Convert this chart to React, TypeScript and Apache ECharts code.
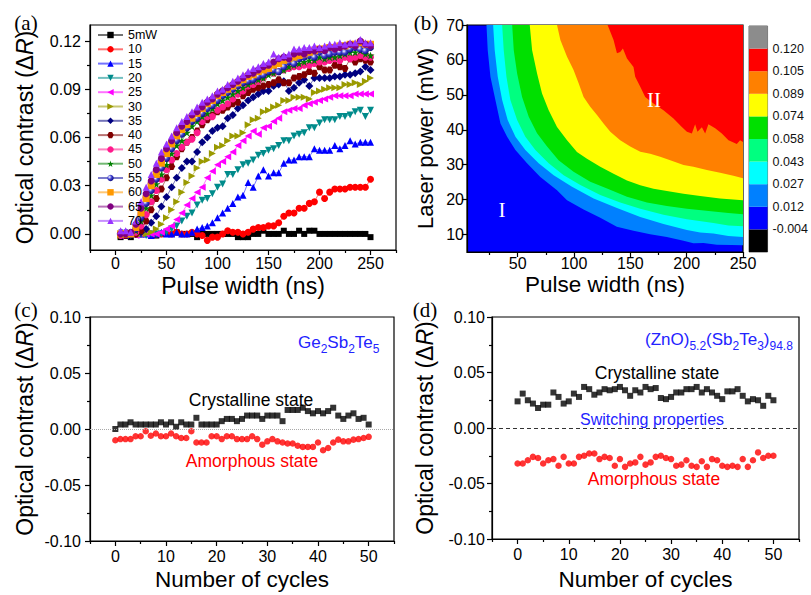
import React, { useEffect, useRef } from "react";
import * as echarts from "echarts";

// ---------- (a) optical contrast vs pulse width, one curve per laser power ----------
const pulseWidths = [
  5, 10, 15, 20, 25, 30, 35, 40, 45, 50,
  55, 60, 65, 70, 75, 80, 85, 90, 95, 100,
  105, 110, 115, 120, 125, 130, 135, 140, 145, 150,
  155, 160, 165, 170, 175, 180, 185, 190, 195, 200,
  205, 210, 215, 220, 225, 230, 235, 240, 245, 250,
];
const powerNames = ["5mW", "10", "15", "20", "25", "30", "35", "40", "45", "50", "55", "60", "65", "70"];

const contrast5 = [
  -0.002, -0.001, -0.002, 0.0, 0.001, 0.002, 0.0, -0.001, 0.0, 0.0,
  0.0, 0.001, 0.0, 0.0, 0.0, -0.002, 0.0, 0.0, 0.0, 0.0,
  0.0, 0.0, 0.0, -0.002, -0.002, -0.002, 0.0, 0.0, 0.002, 0.0,
  0.0, 0.0, 0.002, 0.0, 0.0, 0.002, 0.0, 0.002, 0.002, 0.0,
  0.0, 0.0, 0.0, 0.0, 0.0, 0.0, 0.0, 0.0, 0.0, -0.002,
];
const contrast10 = [
  0.0, -0.001, 0.0, 0.0, 0.0, 0.001, 0.0, 0.0, 0.0, 0.001,
  0.0, 0.001, 0.0, 0.0, 0.001, 0.0, -0.001, -0.004, -0.002, -0.002,
  0.0, 0.002, 0.001, 0.001, 0.0, 0.001, 0.003, 0.004, 0.004, 0.005,
  0.005, 0.007, 0.011, 0.013, 0.013, 0.016, 0.016, 0.019, 0.02, 0.026,
  0.022, 0.026, 0.028, 0.028, 0.028, 0.029, 0.029, 0.029, 0.029, 0.034,
];
const contrast15 = [
  0.0, -0.001, 0.0, 0.001, 0.0, 0.0, -0.001, 0.0, 0.001, 0.0,
  0.0, 0.001, 0.0, 0.0, 0.001, 0.003, 0.004, 0.005, 0.007, 0.01,
  0.013, 0.016, 0.019, 0.023, 0.024, 0.032, 0.029, 0.036, 0.04, 0.036,
  0.038, 0.038, 0.044, 0.046, 0.046, 0.048, 0.048, 0.048, 0.053, 0.052,
  0.052, 0.052, 0.055, 0.053, 0.055, 0.058, 0.056, 0.057, 0.057, 0.057,
];
const contrast20 = [
  -0.001, 0.0, -0.001, 0.0, 0.0, -0.001, 0.0, 0.0, 0.0, 0.001,
  0.003, 0.005, 0.008, 0.011, 0.013, 0.018, 0.021, 0.022, 0.025, 0.029,
  0.031, 0.037, 0.037, 0.04, 0.043, 0.044, 0.046, 0.049, 0.05, 0.052,
  0.053, 0.055, 0.058, 0.058, 0.061, 0.062, 0.063, 0.066, 0.066, 0.069,
  0.071, 0.071, 0.071, 0.073, 0.073, 0.074, 0.076, 0.077, 0.073, 0.077,
];
const contrast25 = [
  -0.001, 0.0, 0.0, -0.001, 0.0, 0.0, 0.0, 0.0, 0.001, 0.003,
  0.005, 0.009, 0.013, 0.018, 0.022, 0.026, 0.029, 0.035, 0.039, 0.043,
  0.045, 0.048, 0.051, 0.055, 0.058, 0.061, 0.064, 0.062, 0.066, 0.067,
  0.07, 0.072, 0.076, 0.077, 0.078, 0.078, 0.08, 0.081, 0.082, 0.083,
  0.084, 0.085, 0.086, 0.086, 0.086, 0.086, 0.087, 0.087, 0.087, 0.087,
];
const contrast30 = [
  -0.001, 0.0, 0.0, 0.0, 0.0, 0.0, 0.001, 0.003, 0.006, 0.01,
  0.015, 0.02, 0.026, 0.032, 0.036, 0.041, 0.045, 0.046, 0.05, 0.054,
  0.055, 0.058, 0.061, 0.061, 0.063, 0.068, 0.071, 0.072, 0.076, 0.077,
  0.079, 0.08, 0.083, 0.083, 0.085, 0.085, 0.085, 0.084, 0.088, 0.089,
  0.09, 0.091, 0.091, 0.091, 0.093, 0.093, 0.094, 0.093, 0.095, 0.097,
];
const contrast35 = [
  0.0, 0.0, 0.0, 0.0, 0.001, 0.003, 0.007, 0.011, 0.017, 0.023,
  0.029, 0.035, 0.041, 0.045, 0.045, 0.051, 0.057, 0.06, 0.064, 0.066,
  0.067, 0.072, 0.074, 0.078, 0.08, 0.083, 0.085, 0.087, 0.089, 0.089,
  0.092, 0.093, 0.095, 0.089, 0.091, 0.094, 0.096, 0.092, 0.097, 0.097,
  0.097, 0.097, 0.098, 0.098, 0.099, 0.099, 0.1, 0.101, 0.104, 0.102,
];
const contrast40 = [
  0.0, -0.001, 0.0, 0.0, 0.002, 0.008, 0.015, 0.022, 0.028, 0.035,
  0.042, 0.048, 0.053, 0.057, 0.06, 0.064, 0.068, 0.071, 0.074, 0.076,
  0.077, 0.079, 0.081, 0.082, 0.086, 0.088, 0.09, 0.091, 0.092, 0.093,
  0.094, 0.096, 0.094, 0.094, 0.097, 0.098, 0.099, 0.101, 0.1, 0.104,
  0.102, 0.102, 0.105, 0.104, 0.103, 0.109, 0.107, 0.109, 0.108, 0.107,
];
const contrast45 = [
  -0.001, 0.0, 0.0, 0.001, 0.005, 0.012, 0.02, 0.027, 0.034, 0.04,
  0.046, 0.05, 0.054, 0.057, 0.059, 0.063, 0.07, 0.073, 0.073, 0.077,
  0.079, 0.081, 0.084, 0.087, 0.089, 0.092, 0.093, 0.095, 0.097, 0.1,
  0.1, 0.101, 0.102, 0.103, 0.104, 0.104, 0.105, 0.105, 0.106, 0.107,
  0.107, 0.108, 0.109, 0.108, 0.11, 0.109, 0.11, 0.111, 0.11, 0.11,
];
const contrast50 = [
  0.0, 0.0, 0.0, 0.002, 0.008, 0.016, 0.024, 0.031, 0.037, 0.043,
  0.05, 0.055, 0.058, 0.063, 0.067, 0.07, 0.073, 0.075, 0.078, 0.081,
  0.083, 0.085, 0.087, 0.089, 0.091, 0.093, 0.095, 0.096, 0.097, 0.099,
  0.1, 0.101, 0.102, 0.104, 0.105, 0.106, 0.107, 0.108, 0.108, 0.11,
  0.109, 0.11, 0.11, 0.111, 0.112, 0.113, 0.113, 0.114, 0.112, 0.111,
];
const contrast55 = [
  0.001, 0.001, 0.0, 0.003, 0.01, 0.019, 0.027, 0.034, 0.041, 0.047,
  0.053, 0.058, 0.062, 0.066, 0.07, 0.072, 0.075, 0.078, 0.08, 0.083,
  0.086, 0.088, 0.09, 0.092, 0.094, 0.095, 0.096, 0.098, 0.099, 0.101,
  0.102, 0.101, 0.104, 0.107, 0.106, 0.109, 0.11, 0.111, 0.11, 0.113,
  0.111, 0.112, 0.113, 0.113, 0.113, 0.115, 0.116, 0.115, 0.114, 0.116,
];
const contrast60 = [
  0.0, 0.0, 0.0, 0.004, 0.013, 0.022, 0.03, 0.037, 0.044, 0.05,
  0.056, 0.061, 0.065, 0.068, 0.072, 0.075, 0.078, 0.081, 0.083, 0.086,
  0.088, 0.09, 0.092, 0.094, 0.096, 0.098, 0.099, 0.101, 0.102, 0.103,
  0.105, 0.106, 0.108, 0.109, 0.11, 0.111, 0.112, 0.113, 0.114, 0.115,
  0.115, 0.116, 0.116, 0.117, 0.117, 0.118, 0.118, 0.119, 0.118, 0.118,
];
const contrast65 = [
  0.0, 0.0, 0.001, 0.006, 0.016, 0.025, 0.033, 0.04, 0.047, 0.053,
  0.058, 0.063, 0.067, 0.07, 0.074, 0.076, 0.079, 0.082, 0.084, 0.087,
  0.089, 0.091, 0.093, 0.095, 0.097, 0.099, 0.1, 0.102, 0.104, 0.105,
  0.107, 0.109, 0.11, 0.109, 0.112, 0.113, 0.112, 0.114, 0.114, 0.115,
  0.114, 0.116, 0.115, 0.116, 0.117, 0.118, 0.117, 0.12, 0.118, 0.117,
];
const contrast70 = [
  0.002, 0.002, 0.001, 0.008, 0.02, 0.029, 0.037, 0.044, 0.051, 0.056,
  0.061, 0.066, 0.07, 0.073, 0.076, 0.079, 0.082, 0.084, 0.086, 0.089,
  0.09, 0.093, 0.095, 0.097, 0.099, 0.101, 0.103, 0.104, 0.106, 0.107,
  0.112, 0.11, 0.111, 0.112, 0.115, 0.115, 0.116, 0.116, 0.117, 0.116,
  0.117, 0.118, 0.118, 0.119, 0.118, 0.119, 0.119, 0.121, 0.119, 0.119,
];
const contrastByPower = [
  contrast5, contrast10, contrast15, contrast20, contrast25, contrast30, contrast35,
  contrast40, contrast45, contrast50, contrast55, contrast60, contrast65, contrast70,
];

// ---------- (b) contour map: boundary of each level as [pulse width ns, laser power mW] ----------
const contourLevels = ["-0.004", "0.012", "0.027", "0.043", "0.058", "0.074", "0.089", "0.105", "0.120"];
const edge012: [number, number][] = [
  [22.3, 70], [23.4, 62.8], [25.8, 55.2], [30.2, 48.5], [34.7, 41.8], [40.6, 38], [48, 34.2],
  [58.3, 30.4], [70.1, 26.5], [84.9, 22.7], [93.8, 19.8], [108.5, 17.2], [123.3, 14.8], [138, 12.2],
  [152.8, 11.1], [167.6, 10.1], [182.4, 9.3], [197.2, 8.2], [206, 7.5], [215, 7.6], [226.8, 7.1],
  [240, 7.0], [250, 6.9],
];
const edge027: [number, number][] = [
  [28.2, 70], [29.6, 62.8], [32.3, 55.2], [36.2, 48.5], [41.1, 42.8], [48, 38], [56.8, 34.2],
  [68.6, 30.4], [81.9, 27], [98.2, 23.7], [117.4, 20.3], [138.1, 17.6], [158.8, 15], [179.4, 13],
  [200.2, 11.3], [212, 10.6], [223.8, 10.3], [237, 9.6], [250, 9.3],
];
const edge043: [number, number][] = [
  [36.2, 70], [37.6, 62.8], [40, 55.2], [43.5, 48.5], [49.5, 42.8], [56.8, 38], [65.7, 34.2],
  [77.5, 30.4], [90.8, 27], [105.6, 24.2], [123.3, 21.3], [141, 19.2], [158.8, 17.4], [179.4, 15.7],
  [200.2, 14.4], [223.8, 13.3], [237, 12.6], [250, 12.4],
];
const edge058: [number, number][] = [
  [45.1, 70], [46.5, 62.8], [49.5, 56.1], [53.9, 49.4], [59.8, 43.7], [67.2, 39], [76.1, 35.2],
  [86.3, 31.3], [99.6, 28], [114.4, 25.1], [129.3, 23.2], [147, 20.8], [164.7, 19.2], [182.4, 18.2],
  [200.2, 17.4], [223.8, 16.6], [237, 16.2], [250, 15.8],
];
const edge074: [number, number][] = [
  [60.7, 70], [62.8, 62.8], [67.2, 56.1], [71.6, 50.4], [77.5, 45.6], [84.9, 40.8], [93.8, 37],
  [102.6, 33.6], [111.5, 31.7], [123.3, 29.4], [135.1, 27.4], [147, 25.5], [158.8, 24.1],
  [170.6, 23.1], [182.4, 22.5], [197.2, 21.7], [212, 21], [229.7, 20.3], [250, 19.8],
];
const edge089: [number, number][] = [
  [84.9, 70], [87.9, 65.7], [93.8, 60.9], [99.6, 57.1], [104.1, 53.3], [108.5, 49.4], [114.4, 46.6],
  [120.4, 44.2], [126.2, 41.8], [132.2, 39.4], [141, 37], [149.9, 35.2], [158.8, 33.7], [167.6, 33.1],
  [176.5, 32.3], [185.4, 31.3], [197.2, 29.9], [206, 29.4], [217.9, 28.5], [229.7, 27.7],
  [241.5, 26.8], [250, 26.1],
];
const edge105: [number, number][] = [
  [129.8, 70], [135.1, 65.7], [138.1, 61.9], [141, 62.3], [143.4, 63.3], [147, 60.4], [152.8, 58],
  [154.3, 55.2], [158.8, 52.3], [163.2, 49.4], [170.6, 47.5], [179.4, 45.6], [188.3, 43.2],
  [195.7, 40.8], [200.2, 39.4], [204.6, 38.9], [207.5, 41.6], [209.6, 39.4], [213.5, 40.7],
  [216.4, 38.9], [219.3, 41.6], [225.3, 40.4], [231.2, 38.9], [237.1, 37], [244.5, 35.9],
  [247.4, 37], [250, 36.5],
];
const contourEdges = [edge012, edge027, edge043, edge058, edge074, edge089, edge105];

// ---------- (c), (d) cycling ----------
const cycles = [
  0, 1, 2, 3, 4, 5, 6, 7, 8, 9, 10, 11, 12, 13, 14, 15, 16, 17, 18, 19, 20, 21, 22, 23, 24, 25,
  26, 27, 28, 29, 30, 31, 32, 33, 34, 35, 36, 37, 38, 39, 40, 41, 42, 43, 44, 45, 46, 47, 48, 49, 50,
];
const gstCrystalline = [
  0.0, 0.004, 0.004, 0.006, 0.004, 0.004, 0.004, 0.004, 0.004, 0.006, 0.004, 0.006, 0.002, 0.006,
  0.004, 0.004, 0.01, 0.004, 0.004, 0.004, 0.004, 0.007, 0.009, 0.009, 0.007, 0.009, 0.012, 0.012,
  0.012, 0.009, 0.012, 0.012, 0.012, 0.007, 0.017, 0.017, 0.017, 0.019, 0.016, 0.014, 0.016, 0.014,
  0.016, 0.019, 0.012, 0.009, 0.012, 0.014, 0.009, 0.01, 0.004,
];
const gstAmorphous = [
  -0.01, -0.009, -0.009, -0.009, -0.0065, -0.0065, -0.002, -0.006, -0.004, -0.0065, -0.0065, -0.004,
  -0.0065, -0.008, -0.008, -0.002, -0.012, -0.012, -0.012, -0.0065, -0.0065, -0.009, -0.0065, -0.0065,
  -0.009, -0.009, -0.009, -0.0065, -0.009, -0.014, -0.011, -0.009, -0.011, -0.012, -0.013, -0.013,
  -0.015, -0.016, -0.016, -0.016, -0.012, -0.019, -0.017, -0.012, -0.0095, -0.011, -0.011, -0.0095,
  -0.009, -0.008, -0.007,
];
const zstCrystalline = [
  0.024, 0.031, 0.025, 0.022, 0.018, 0.021, 0.021, 0.032, 0.028, 0.022, 0.024, 0.031, 0.028, 0.037,
  0.035, 0.03, 0.032, 0.035, 0.034, 0.035, 0.037, 0.034, 0.029, 0.034, 0.032, 0.037, 0.035, 0.036,
  0.027, 0.026, 0.028, 0.032, 0.032, 0.035, 0.035, 0.037, 0.032, 0.035, 0.032, 0.029, 0.026, 0.033,
  0.033, 0.035, 0.029, 0.024, 0.026, 0.025, 0.02, 0.029, 0.025,
];
const zstAmorphous = [
  -0.032, -0.032, -0.029, -0.026, -0.027, -0.032, -0.029, -0.028, -0.034, -0.026, -0.032, -0.032,
  -0.026, -0.025, -0.023, -0.023, -0.028, -0.026, -0.027, -0.034, -0.028, -0.035, -0.032, -0.031,
  -0.026, -0.033, -0.031, -0.026, -0.025, -0.027, -0.028, -0.034, -0.033, -0.029, -0.034, -0.035,
  -0.03, -0.035, -0.028, -0.029, -0.034, -0.035, -0.034, -0.035, -0.028, -0.035, -0.029, -0.022,
  -0.027, -0.025, -0.025,
];

// ---------- styles ----------
const FONT = "'Liberation Sans', Arial, sans-serif";
const SERIF = "'Liberation Serif', 'Times New Roman', serif";
const STAR = "path://M50,0L61,35L98,35L68,57L79,91L50,70L21,91L32,57L2,35L39,35Z";
const HEX = "path://M25,0L75,0L100,43L75,87L25,87L0,43Z";
const contourColors = ["#0080ff", "#00ffff", "#00ff80", "#00e000", "#ffff00", "#ff8000", "#ff0000"];
const colorbarColors = [
  "#000000", "#0000ff", "#0080ff", "#00ffff", "#00ff80", "#00e000", "#ffff00", "#ff8000", "#ff0000", "#8c8c8c",
];
const BLUE_TEXT = "#2323ff";

function makeMarkers() {
  const sphere = new echarts.graphic.RadialGradient(0.35, 0.35, 0.75, [
    { offset: 0, color: "#ffffff" },
    { offset: 0.45, color: "#4040d0" },
    { offset: 1, color: "#000070" },
  ]);
  return [
    { color: "#000000", symbol: "rect", size: 6 },
    { color: "#ff0000", symbol: "circle", size: 7 },
    { color: "#0000ff", symbol: "triangle", size: 7 },
    { color: "#008b8b", symbol: "triangle", rotate: 180, size: 7 },
    { color: "#ff00ff", symbol: "triangle", rotate: 90, size: 7 },
    { color: "#9a9a00", symbol: "triangle", rotate: -90, size: 7 },
    { color: "#000080", symbol: "diamond", size: 8 },
    { color: "#800000", symbol: HEX, size: 7 },
    { color: "#ff1a8c", symbol: "circle", size: 7 },
    { color: "#008000", symbol: STAR, size: 8 },
    { color: "#1010a0", fill: sphere, symbol: "circle", size: 7 },
    { color: "#ff9900", symbol: "rect", size: 7 },
    { color: "#800080", symbol: "circle", size: 7 },
    { color: "#9933ff", symbol: "triangle", size: 7 },
  ];
}

const tickLine = { color: "#000", width: 1.2 };

function majorAxis(o: {
  grid: number; min: number; max: number; ticks: number[]; fmt: (v: number) => string;
  margin: number; position: string; name?: string; nameGap?: number; nameSize?: number;
}) {
  return {
    type: "value", gridIndex: o.grid, min: o.min, max: o.max, position: o.position,
    splitLine: { show: false },
    axisLine: { show: true, onZero: false, lineStyle: tickLine },
    axisTick: { show: true, customValues: o.ticks, length: 5, lineStyle: tickLine },
    axisLabel: {
      customValues: o.ticks, formatter: o.fmt, margin: o.margin,
      fontSize: 16, color: "#000", fontFamily: FONT,
    },
    name: o.name, nameLocation: "middle", nameGap: o.nameGap,
    nameTextStyle: {
      fontSize: o.nameSize ?? 23, color: "#000", fontFamily: FONT,
      rich: { i: { fontStyle: "italic", fontSize: o.nameSize ?? 23, fontFamily: FONT, color: "#000" } },
    },
  };
}

function minorAxis(grid: number, min: number, max: number, ticks: number[], position: string) {
  return {
    type: "value", gridIndex: grid, min, max, position, offset: 0,
    splitLine: { show: false },
    axisLine: { show: false, onZero: false },
    axisTick: { show: true, customValues: ticks, length: 3, lineStyle: tickLine },
    axisLabel: { show: false },
  };
}

const f2 = (v: number) => v.toFixed(2);
const f0 = (v: number) => String(Math.round(v));

function buildOption() {
  const markers = makeMarkers();

  const panelA = powerNames.map((name, i) => ({
    type: "line", name, xAxisIndex: 0, yAxisIndex: 0,
    data: pulseWidths.map((x, j) => [x, contrastByPower[i][j]]),
    symbol: markers[i].symbol, symbolRotate: markers[i].rotate ?? 0, symbolSize: markers[i].size,
    itemStyle: { color: markers[i].fill ?? markers[i].color },
    lineStyle: { color: markers[i].color, width: 1, opacity: 0.55 },
    silent: true,
  }));

  const panelB = contourEdges.map((edge, i) => ({
    type: "line", name: "level " + contourLevels[i + 1], xAxisIndex: 2, yAxisIndex: 2,
    data: edge, symbol: "none", lineStyle: { width: 0 },
    areaStyle: { origin: "end", color: contourColors[i], opacity: 1 },
    silent: true,
  }));

  const colorbar = colorbarColors.map((c, i) => ({
    type: "bar", name: "band " + i, xAxisIndex: 4, yAxisIndex: 3, stack: "cb",
    data: [1], barWidth: "100%", itemStyle: { color: c }, silent: true,
  }));

  const cycleSeries = (
    xi: number, yi: number, cryst: number[], amor: number[], zeroLine: any,
  ) => [
    {
      type: "scatter", name: "crystalline", xAxisIndex: xi, yAxisIndex: yi,
      data: cycles.map((c, j) => [c, cryst[j]]), symbol: "rect", symbolSize: 6,
      itemStyle: { color: "#000" }, silent: true,
      markLine: { silent: true, symbol: "none", label: { show: false }, lineStyle: zeroLine, data: [{ yAxis: 0 }] },
    },
    {
      type: "scatter", name: "amorphous", xAxisIndex: xi, yAxisIndex: yi,
      data: cycles.map((c, j) => [c, amor[j]]), symbol: "circle", symbolSize: 6.5,
      itemStyle: { color: "#ff0000" }, silent: true,
    },
  ];

  const gridBase = { show: true, borderColor: "#000", borderWidth: 1.2, containLabel: false };

  // chemical formula with subscripts: main tokens centred in a tall line box,
  // subscript tokens sit at the bottom of it
  const formula = (parts: string, x: number, y: number) => ({
    type: "text", x, y, z: 100,
    style: {
      text: parts, fill: BLUE_TEXT,
      textVerticalAlign: "middle", verticalAlign: "middle",
      rich: {
        n: { fontSize: 17, fontFamily: FONT, fill: BLUE_TEXT, color: BLUE_TEXT, lineHeight: 26, verticalAlign: "middle" },
        s: { fontSize: 12, fontFamily: FONT, fill: BLUE_TEXT, color: BLUE_TEXT, lineHeight: 9, verticalAlign: "bottom" },
      },
    },
  });

  const label = (text: string, x: number, y: number, color: string, size: number, family = FONT) => ({
    type: "text", x, y, z: 100,
    style: {
      text, fill: color, fontSize: size, fontFamily: family,
      textAlign: "center", align: "center", textVerticalAlign: "middle", verticalAlign: "middle",
    },
  });

  return {
    animation: false,
    backgroundColor: "#ffffff",
    grid: [
      { ...gridBase, left: 90, top: 25, width: 306, height: 225 },
      { ...gridBase, left: 467, top: 25, width: 276, height: 227, backgroundColor: "#0000ff" },
      { show: true, left: 749, top: 26, width: 27, height: 226, borderColor: "#444", borderWidth: 0.8 },
      { ...gridBase, left: 90, top: 317, width: 304, height: 224 },
      { ...gridBase, left: 492, top: 317, width: 307, height: 222 },
    ],
    xAxis: [
      majorAxis({ grid: 0, min: -25, max: 275, ticks: [0, 50, 100, 150, 200, 250], fmt: f0, margin: 5,
        position: "bottom", name: "Pulse width (ns)", nameGap: 24 }),
      minorAxis(0, -25, 275, [-25, 25, 75, 125, 175, 225, 275], "bottom"),
      majorAxis({ grid: 1, min: 5, max: 250, ticks: [50, 100, 150, 200, 250], fmt: f0, margin: 3,
        position: "bottom", name: "Pulse width (ns)", nameGap: 21, nameSize: 22.5 }),
      minorAxis(1, 5, 250, [25, 75, 125, 175, 225], "bottom"),
      { type: "category", gridIndex: 2, data: [""], show: false, boundaryGap: true },
      majorAxis({ grid: 3, min: -5, max: 55, ticks: [0, 10, 20, 30, 40, 50], fmt: f0, margin: 7,
        position: "bottom", name: "Number of cycles", nameGap: 27, nameSize: 22.5 }),
      minorAxis(3, -5, 55, [-5, 5, 15, 25, 35, 45, 55], "bottom"),
      majorAxis({ grid: 4, min: -5, max: 55, ticks: [0, 10, 20, 30, 40, 50], fmt: f0, margin: 7,
        position: "bottom", name: "Number of cycles", nameGap: 29, nameSize: 22.5 }),
      minorAxis(4, -5, 55, [-5, 5, 15, 25, 35, 45, 55], "bottom"),
    ],
    yAxis: [
      majorAxis({ grid: 0, min: -0.01, max: 0.13, ticks: [0, 0.03, 0.06, 0.09, 0.12], fmt: f2, margin: 9,
        position: "left", name: "Optical contrast (Δ{i|R})", nameGap: 54 }),
      minorAxis(0, -0.01, 0.13, [0.015, 0.045, 0.075, 0.105], "left"),
      majorAxis({ grid: 1, min: 5, max: 70, ticks: [10, 20, 30, 40, 50, 60, 70], fmt: f0, margin: 3,
        position: "left", name: "Laser power (mW)", nameGap: 31, nameSize: 22 }),
      {
        type: "value", gridIndex: 2, min: 0, max: 10, position: "right",
        splitLine: { show: false }, axisLine: { show: false }, axisTick: { show: false },
        axisLabel: {
          customValues: [1, 2, 3, 4, 5, 6, 7, 8, 9],
          formatter: (v: number) => contourLevels[Math.round(v) - 1],
          margin: 5, fontSize: 12.5, color: "#111", fontFamily: FONT,
        },
      },
      majorAxis({ grid: 3, min: -0.1, max: 0.1, ticks: [-0.1, -0.05, 0, 0.05, 0.1], fmt: f2, margin: 9,
        position: "left", name: "Optical contrast (Δ{i|R})", nameGap: 54 }),
      minorAxis(3, -0.1, 0.1, [-0.075, -0.025, 0.025, 0.075], "left"),
      majorAxis({ grid: 4, min: -0.1, max: 0.1, ticks: [-0.1, -0.05, 0, 0.05, 0.1], fmt: f2, margin: 7,
        position: "left", name: "Optical contrast (Δ{i|R})", nameGap: 56 }),
      minorAxis(4, -0.1, 0.1, [-0.075, -0.025, 0.025, 0.075], "left"),
    ],
    legend: {
      data: powerNames, orient: "vertical", left: 92, top: 23,
      itemWidth: 25, itemHeight: 8, itemGap: 0.3, selectedMode: false,
      textStyle: { fontSize: 12.5, fontFamily: FONT, color: "#000", lineHeight: 14 },
    },
    series: [
      ...panelB,
      ...colorbar,
      ...panelA,
      ...cycleSeries(5, 4, gstCrystalline, gstAmorphous, { type: "dotted", color: "#a8a8a8", width: 1 }),
      ...cycleSeries(7, 6, zstCrystalline, zstAmorphous, { type: [4, 3], color: "#333", width: 1 }),
    ],
    graphic: [
      label("(a)", 26, 23, "#000", 21, SERIF),
      label("(b)", 426, 23, "#000", 21, SERIF),
      label("(c)", 26, 310, "#000", 21, SERIF),
      label("(d)", 425, 310, "#000", 21, SERIF),
      label("I", 502, 210, "#ffffff", 21, SERIF),
      label("II", 654, 100, "#ffffff", 21, SERIF),
      formula("{n|Ge}{s|2}{n|Sb}{s|2}{n|Te}{s|5}", 298, 342),
      label("Crystalline state", 251, 400, "#000", 17.5),
      label("Amorphous state", 252, 461, "#ff0000", 17.5),
      formula("{n|(ZnO)}{s|5.2}{n|(Sb}{s|2}{n|Te}{s|3}{n|)}{s|94.8}", 645, 339),
      label("Crystalline state", 657, 373, "#000", 17.5),
      label("Switching properties", 652, 419, BLUE_TEXT, 16),
      label("Amorphous state", 654, 479, "#ff0000", 17.5),
    ],
  };
}

export default function App() {
  const ref = useRef<HTMLDivElement>(null);
  useEffect(() => {
    if (!ref.current) return;
    const chart = echarts.init(ref.current, undefined, { renderer: "svg" });
    chart.setOption(buildOption() as any);
    return () => chart.dispose();
  }, []);
  return (
    <div
      ref={ref}
      style={{ position: "fixed", left: 0, top: 0, width: 811, height: 595, background: "#fff" }}
    />
  );
}
